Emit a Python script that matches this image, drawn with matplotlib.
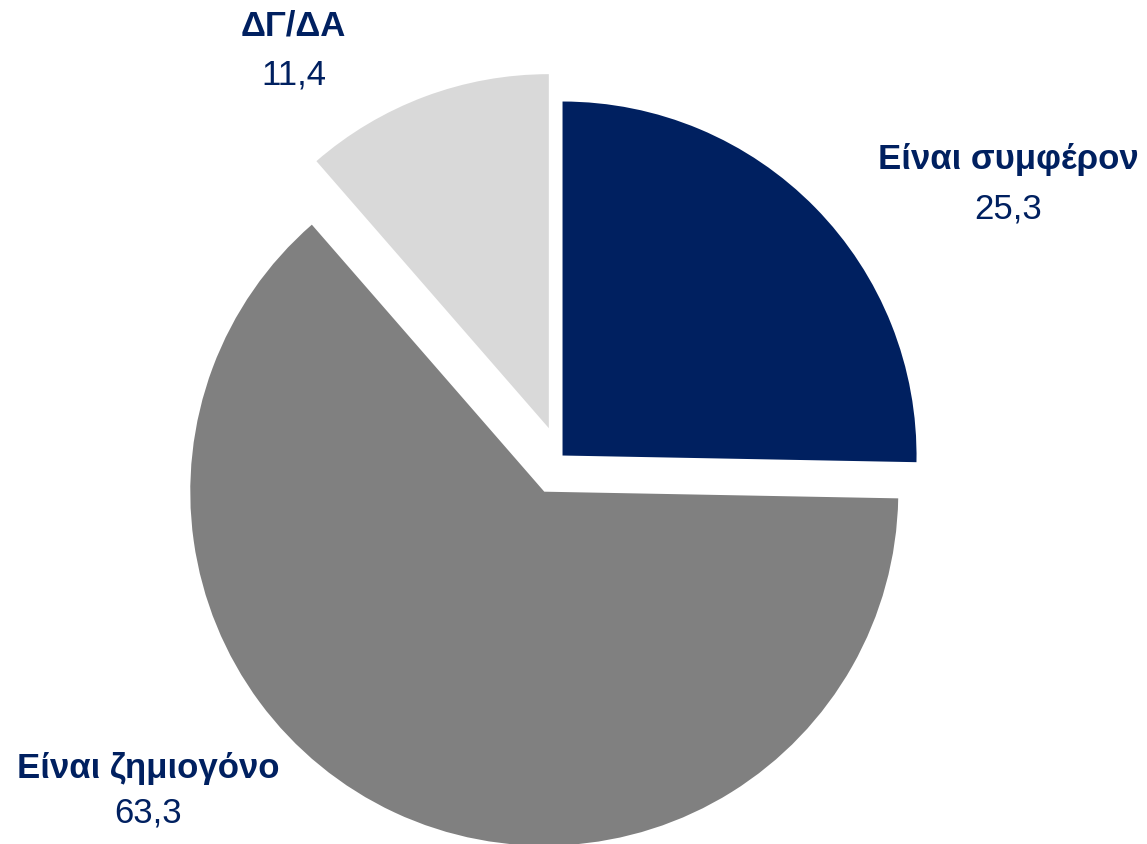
import matplotlib
matplotlib.use('Agg')
import matplotlib.pyplot as plt
from matplotlib import font_manager


labels = ['Είναι συμφέρον', 'Είναι ζημιογόνο', 'ΔΓ/ΔΑ']
values = [25.3, 63.3, 11.4]
colors = ['#002060', '#808080', '#D9D9D9']
explode = [0.01, 0.105, 0.09]

# label anchor points in figure fractions (x, name line y, value line y)
label_pos = [(0.879, 0.811, 0.752),
             (0.129, 0.090, 0.037),
             (0.256, 0.969, 0.911)]

names = {f.name for f in font_manager.fontManager.ttflist}
family = ['Liberation Sans Narrow', 'Arial Narrow', 'Liberation Sans', 'DejaVu Sans']
family = [f for f in family if f in names] or ['DejaVu Sans']
narrow = 'Narrow' in family[0]
plt.rcParams['font.family'] = family
fs = 29 if narrow else 25

text_color = '#002060'

W, H, dpi = 1147, 844, 100
fig = plt.figure(figsize=(W / dpi, H / dpi), dpi=dpi)
ax = fig.add_axes([0, 0, 1, 1])

ax.pie(values, colors=colors, explode=explode, startangle=90,
       counterclock=False, radius=1.0,
       wedgeprops=dict(linewidth=0))

# pixel geometry: pie centre and radius
cx, cy, r = 560, 458, 354
ax.set_xlim(-cx / r, (W - cx) / r)
ax.set_ylim(-(H - cy) / r, cy / r)
ax.set_aspect('auto')
ax.axis('off')

for lab, val, (x, y1, y2) in zip(labels, values, label_pos):
    fig.text(x, y1, lab, ha='center', va='center', fontsize=fs,
             fontweight='bold', color=text_color)
    fig.text(x, y2, f'{val:.1f}'.replace('.', ','), ha='center', va='center',
             fontsize=fs, color=text_color)

fig.savefig('out.png', dpi=dpi)
